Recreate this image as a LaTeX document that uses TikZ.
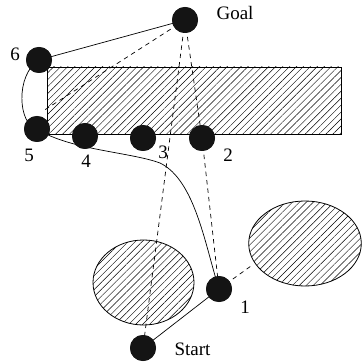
\documentclass[tikz,border=0pt]{standalone}
\usepackage{fontspec}
\setmainfont{Liberation Serif}
\usetikzlibrary{patterns.meta}
\begin{document}
\begin{tikzpicture}[x=1pt,y=-1pt,
  dot/.style={circle,fill=black!92,draw=none,minimum size=26pt,inner sep=0pt},
  lbl/.style={font=\fontsize{19}{22}\selectfont,inner sep=0pt,anchor=center},
  obst/.style={draw=black,line width=0.8pt,pattern={Lines[angle=45,distance=4.9pt,line width=0.45pt]}},
  route/.style={line width=0.7pt},
  ray/.style={line width=0.7pt,dash pattern=on 4.5pt off 4pt}]
\useasboundingbox (0,0) rectangle (362,363);
% obstacles
\draw[obst] (47,67) rectangle (341,134);
\draw[obst] (143.5,282.5) ellipse [x radius=50.5, y radius=42.5];
\draw[obst] (305,243.5) ellipse [x radius=56.3, y radius=42.5];
% nodes
\node[dot] (goal) at (185,20) {};
\node[dot] (n6) at (39,60) {};
\node[dot] (n5) at (37,129) {};
\node[dot] (n4) at (85,136) {};
\node[dot] (n3) at (143,138) {};
\node[dot] (n2) at (202,138) {};
\node[dot] (n1) at (219,289) {};
\node[dot] (start) at (143,348) {};
\coordinate (g5) at (43,111);
\coordinate (e1) at (251,266);
% labels
\node[lbl] (lgoal) at (235,13) {Goal};
\node[lbl] (lstart) at (192.5,349) {Start};
\node[lbl] (l6) at (15,54) {6};
\node[lbl] (l5) at (29,155) {5};
\node[lbl] (l4) at (86,161) {4};
\node[lbl] (l3) at (163,152) {3};
\node[lbl] (l2) at (228,155) {2};
\node[lbl] (l1) at (245,307) {1};
% dashed visibility lines
\draw[ray] (goal.center) -- (g5);
\draw[ray] (goal.center) -- (start.center);
\draw[ray] (goal.center) -- (n2.center) -- (n1.center);
\draw[ray] (n1.center) -- (e1);
% solid route
\draw[route] (start.center) -- (n1.center)
  .. controls (205,245) and (195,180) .. (160,163)
  .. controls (130,152) and (70,150) .. (n5.center)
  .. controls (18,125) and (15,75) .. (n6.center)
  -- (goal.center);
% redraw dots on top
\foreach \n in {goal,n6,n5,n4,n3,n2,n1,start}
  \fill[black!92] (\n) circle (13pt);
\end{tikzpicture}
\end{document}
